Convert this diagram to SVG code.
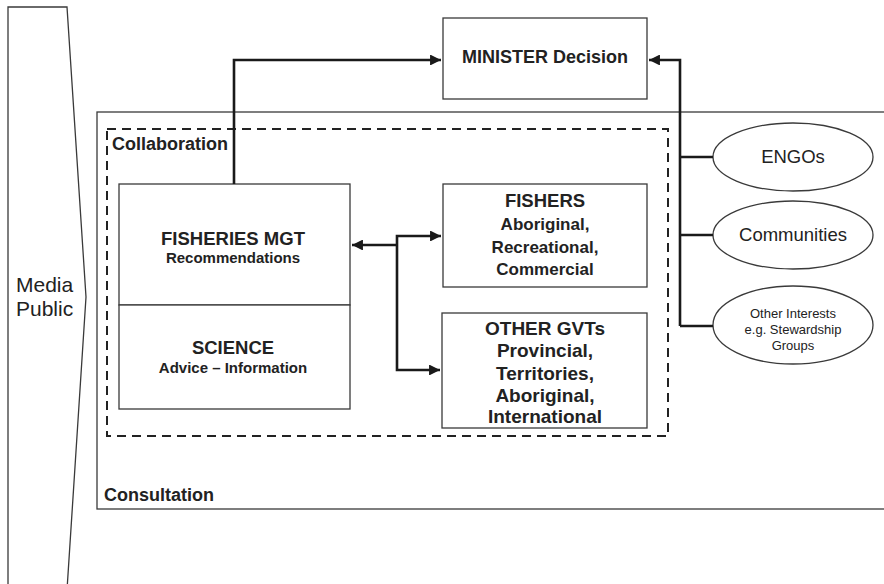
<svg xmlns="http://www.w3.org/2000/svg" width="884" height="584" viewBox="0 0 884 584">
  <style>
    .box { fill: #fff; stroke: #3a3a3a; stroke-width: 1.3; }
    .frame { fill: none; stroke: #3a3a3a; stroke-width: 1.3; }
    .dash { fill: none; stroke: #222; stroke-width: 2; stroke-dasharray: 9 6; }
    .conn { fill: none; stroke: #1a1a1a; stroke-width: 2.6; }
    text { font-family: "Liberation Sans", Arial, sans-serif; fill: #222; }
    .b { font-weight: bold; }
    .mid { text-anchor: middle; }
  </style>
  <defs>
    <marker id="arrow" viewBox="0 0 10 10" refX="10" refY="5" markerWidth="4.2" markerHeight="4.2" orient="auto" markerUnits="strokeWidth">
      <path d="M0,0 L10,5 L0,10 z" fill="#1a1a1a"/>
    </marker>
  </defs>

  <rect width="884" height="584" fill="#fff"/>

  <!-- Media / Public arrow band -->
  <g id="media-public">
    <polygon class="frame" points="8,7 67,7 86,297 67,590 8,590"/>
    <text x="16" y="292" font-size="21">Media</text>
    <text x="16" y="316" font-size="21">Public</text>
  </g>

  <!-- Consultation frame -->
  <g id="consultation">
    <rect class="frame" x="97" y="112" width="800" height="397"/>
    <text class="b" x="104" y="501" font-size="18">Consultation</text>
  </g>

  <!-- Collaboration frame -->
  <g id="collaboration">
    <rect class="dash" x="107" y="129" width="561" height="307"/>
    <text class="b" x="112" y="150" font-size="18">Collaboration</text>
  </g>

  <!-- Minister -->
  <g id="minister">
    <rect class="box" x="443" y="18" width="204" height="81"/>
    <text class="b mid" x="545" y="63" font-size="18">MINISTER Decision</text>
  </g>

  <!-- Fisheries management / science -->
  <g id="fisheries-mgt">
    <rect class="box" x="119" y="184" width="231" height="121"/>
    <text class="b mid" x="233" y="245" font-size="18.5">FISHERIES MGT</text>
    <text class="b mid" x="233" y="263" font-size="15">Recommendations</text>
  </g>
  <g id="science">
    <rect class="box" x="119" y="305" width="231" height="104"/>
    <text class="b mid" x="233" y="354" font-size="18.5">SCIENCE</text>
    <text class="b mid" x="233" y="373" font-size="15">Advice – Information</text>
  </g>

  <!-- Fishers -->
  <g id="fishers">
    <rect class="box" x="443" y="184" width="204" height="103"/>
    <text class="b mid" x="545" y="207" font-size="18.5">FISHERS</text>
    <text class="b mid" x="545" y="230" font-size="17">Aboriginal,</text>
    <text class="b mid" x="545" y="253" font-size="17">Recreational,</text>
    <text class="b mid" x="545" y="275" font-size="17">Commercial</text>
  </g>

  <!-- Other governments -->
  <g id="other-gvts">
    <rect class="box" x="442" y="313" width="205" height="115"/>
    <text class="b mid" x="545" y="335" font-size="19">OTHER GVTs</text>
    <text class="b mid" x="545" y="357" font-size="19">Provincial,</text>
    <text class="b mid" x="545" y="380" font-size="19">Territories,</text>
    <text class="b mid" x="545" y="402" font-size="19">Aboriginal,</text>
    <text class="b mid" x="545" y="423" font-size="19">International</text>
  </g>

  <!-- Outside interests -->
  <g id="engos">
    <ellipse class="box" cx="793" cy="157" rx="80" ry="34"/>
    <text class="mid" x="793" y="163" font-size="18.5">ENGOs</text>
  </g>
  <g id="communities">
    <ellipse class="box" cx="793" cy="235" rx="80" ry="34"/>
    <text class="mid" x="793" y="241" font-size="18.5">Communities</text>
  </g>
  <g id="other-interests">
    <ellipse class="box" cx="793" cy="325" rx="80" ry="39"/>
    <text class="mid" x="793" y="318" font-size="13">Other Interests</text>
    <text class="mid" x="793" y="334" font-size="13">e.g. Stewardship</text>
    <text class="mid" x="793" y="350" font-size="13">Groups</text>
  </g>

  <!-- Connectors -->
  <g id="connectors">
    <polyline class="conn" points="234,184 234,60 441,60" marker-end="url(#arrow)"/>
    <polyline class="conn" points="680,326 680,60 649,60" marker-end="url(#arrow)"/>
    <line class="conn" x1="680" y1="157" x2="713" y2="157"/>
    <line class="conn" x1="680" y1="235" x2="713" y2="235"/>
    <line class="conn" x1="680" y1="326" x2="713" y2="326"/>
    <polyline class="conn" points="397,245 352,245" marker-end="url(#arrow)"/>
    <polyline class="conn" points="397,245 397,236 441,236" marker-end="url(#arrow)"/>
    <polyline class="conn" points="397,245 397,370 440,370" marker-end="url(#arrow)"/>
  </g>
</svg>
